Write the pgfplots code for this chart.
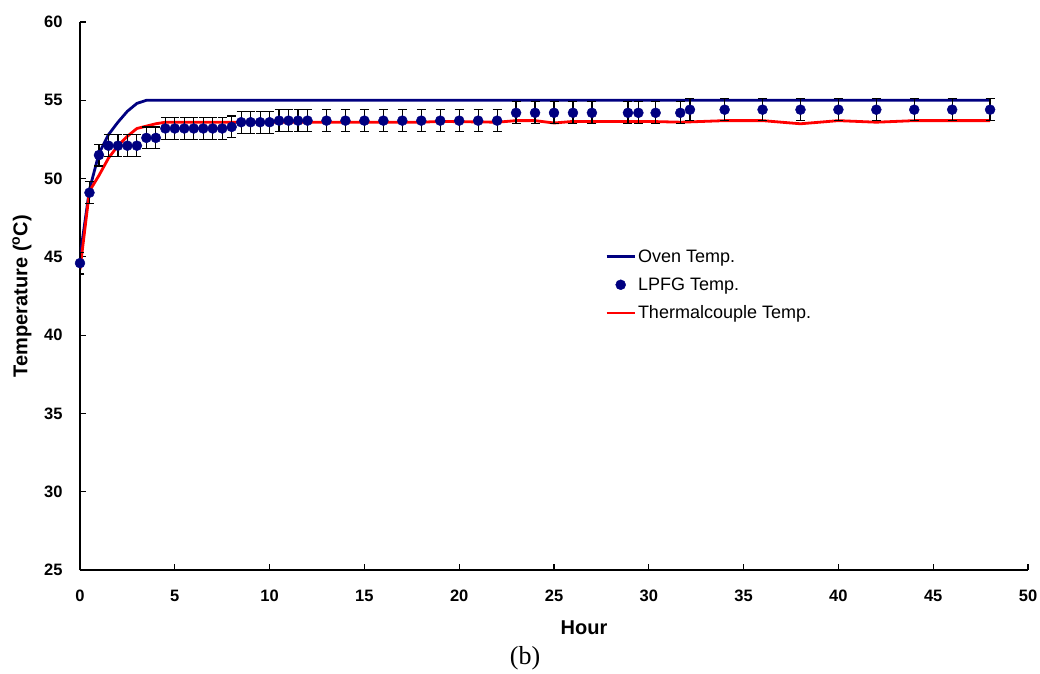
\documentclass[border=0pt]{standalone}
\usepackage{fontspec}
\setmainfont{Liberation Sans}
\newfontfamily\timesfont{Liberation Serif}
\usepackage{pgfplots}
\usepackage{pgfplotstable}
\pgfplotsset{compat=1.18}
\definecolor{navy}{RGB}{0,0,128}
\definecolor{pred}{RGB}{255,0,0}

\pgfplotstableread{
x y e
0 44.6 0.7
0.5 49.1 0.7
1.0 51.5 0.7
1.5 52.1 0.7
2.0 52.1 0.7
2.5 52.1 0.7
3.0 52.1 0.7
3.5 52.6 0.7
4.0 52.6 0.7
4.5 53.2 0.7
5.0 53.2 0.7
5.5 53.2 0.7
6.0 53.2 0.7
6.5 53.2 0.7
7.0 53.2 0.7
7.5 53.2 0.7
8.0 53.3 0.7
8.5 53.6 0.7
9.0 53.6 0.7
9.5 53.6 0.7
10.0 53.6 0.7
10.5 53.7 0.7
11.0 53.7 0.7
11.5 53.7 0.7
12.0 53.7 0.7
13 53.7 0.7
14 53.7 0.7
15 53.7 0.7
16 53.7 0.7
17 53.7 0.7
18 53.7 0.7
19 53.7 0.7
20 53.7 0.7
21 53.7 0.7
22 53.7 0.7
23 54.2 0.7
24 54.2 0.7
25 54.2 0.7
26 54.2 0.7
27 54.2 0.7
28.9 54.2 0.7
29.45 54.2 0.7
30.36 54.2 0.7
31.66 54.2 0.7
32.17 54.4 0.7
34 54.4 0.7
36 54.4 0.7
38 54.4 0.7
40 54.4 0.7
42 54.4 0.7
44 54.4 0.7
46 54.4 0.7
48 54.4 0.7
}\lpfg

\begin{document}
\begin{tikzpicture}
\path[use as bounding box] (-80pt,-103pt) rectangle (960pt,570pt);
\begin{axis}[
  scale only axis, width=948pt, height=548pt,
  xmin=0, xmax=50, ymin=25, ymax=60,
  xtick={0,5,...,50}, ytick={25,30,...,60},
  axis x line=bottom, axis y line=left,
  axis line style={-, line width=1.3pt, black},
  tick align=inside,
  major tick length=6pt,
  tick style={line width=1.1pt, black},
  /pgf/number format/assume math mode=true,
  ticklabel style={font=\bfseries\fontsize{16.5}{19}\selectfont},
  xticklabel style={anchor=base, yshift=-31.5pt},
  yticklabel style={anchor=east, xshift=-14pt},
  every axis x label/.style={at={(axis description cs:0.5,0)}, anchor=center, xshift=30pt, yshift=-57.5pt},
  every axis y label/.style={at={(axis description cs:-0.0612,0.5)}, rotate=90, anchor=center},
  label style={font=\bfseries\fontsize{20}{24}\selectfont},
  xlabel={Hour},
  ylabel={Temperature (\textsuperscript{o}C)},
  legend style={at={(axis cs:27.7,45.6)}, anchor=north west, draw=none, fill=none,
    font=\fontsize{18}{21}\selectfont, row sep=10pt, inner sep=0pt,
    nodes={inner sep=2pt}},
  legend cell align=left,
]
\addlegendimage{legend image code/.code={\draw[navy, line width=2.6pt] (0pt,0pt) -- (28pt,0pt);}}
\addlegendentry{Oven Temp.}
\addlegendimage{legend image code/.code={\fill[navy] (14pt,0pt) circle (5pt);}}
\addlegendentry{LPFG Temp.}
\addlegendimage{legend image code/.code={\draw[pred, line width=2.6pt] (0pt,0pt) -- (28pt,0pt);}}
\addlegendentry{Thermalcouple Temp.}

\addplot[navy, line width=2.8pt, line join=round, forget plot] coordinates {
(0,45.0)(0.5,49.3)(1,51.6)(1.5,52.8)(2,53.6)(2.5,54.3)(3,54.8)(3.5,55.0)(48,55.0)};
\addplot[pred, line width=2.8pt, line join=round, forget plot] coordinates {
(0,44.2)(0.5,49.2)(1,50.2)(1.5,51.3)(2,52.1)(2.5,52.7)(3,53.2)(3.5,53.35)(4,53.5)(4.5,53.6)(5,53.6)(18,53.6)(19,53.65)(22,53.6)(23,53.7)(24,53.7)(25,53.55)(26,53.65)(30,53.65)(31.7,53.6)(34,53.7)(36,53.7)(38,53.5)(40,53.7)(42,53.6)(44,53.7)(48,53.7)};
\addplot[only marks, mark=*, mark size=5pt, mark options={fill=navy, draw=navy}, forget plot,
  error bars/.cd, y dir=both, y explicit,
  error bar style={line width=1.2pt, black},
  error mark options={rotate=90, mark size=4.5pt, line width=1.2pt, black}]
  table[x=x, y=y, y error=e] {\lpfg};
\end{axis}
\node[font=\timesfont\fontsize{26}{30}\selectfont] at ([xshift=-29pt, yshift=-88pt]current axis.south) {(b)};
\end{tikzpicture}
\end{document}
